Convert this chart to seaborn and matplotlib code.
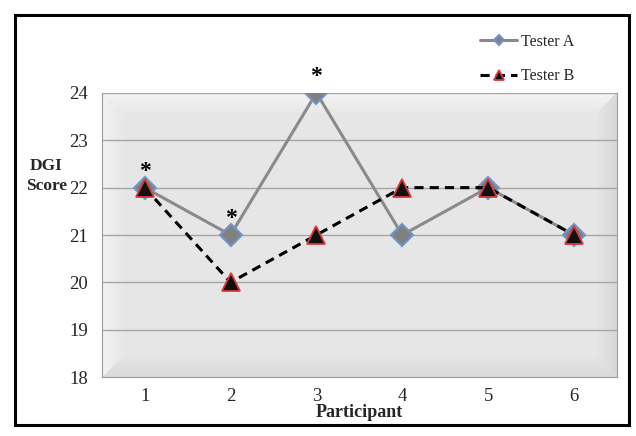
import matplotlib

matplotlib.use("Agg")
import matplotlib.pyplot as plt
import numpy as np
import pandas as pd
import seaborn as sns
from matplotlib.patches import Rectangle

sns.set_style("white")
plt.rcParams["font.family"] = ["Liberation Serif", "DejaVu Serif"]

participants = [1, 2, 3, 4, 5, 6]
tester_a = [22, 21, 24, 21, 22, 21]
tester_b = [22, 20, 21, 22, 22, 21]
starred = [1, 2, 3]
y_ticks = [18, 19, 20, 21, 22, 23, 24]

df = pd.DataFrame({"Participant": participants, "Tester A": tester_a, "Tester B": tester_b})

fig = plt.figure(figsize=(6.36, 4.36), dpi=100)
ax = fig.add_axes([0.160, 0.135, 0.810, 0.652])

# bevelled grey background: light top/left rim, darker bottom/right rim
h, w = 284, 516
yy, xx = np.mgrid[0:h, 0:w].astype(float)
bw = 22.0
dl, dr, dt, db = xx / bw, (w - 1 - xx) / bw, yy / bw, (h - 1 - yy) / bw
dmin = np.minimum.reduce([dl, dr, dt, db])
shade = np.full((h, w), 0.905)
edge = np.clip(1 - dmin, 0, 1)
which = np.argmin(np.stack([dl, dr, dt, db]), axis=0)
delta = np.choose(which, [0.045, -0.06, 0.055, -0.05])
shade = shade + delta * edge
rgb = np.dstack([shade, shade, shade])
ax.imshow(rgb, extent=[0.5, 6.5, 18, 24], origin="upper",
          aspect="auto", interpolation="bilinear", zorder=0)

for t in y_ticks[1:]:
    ax.axhline(t, color="#a6a6a6", lw=1, zorder=1)

sns.lineplot(data=df, x="Participant", y="Tester A", ax=ax, color="#8a8a8a", lw=2.2,
             marker="D", markersize=11, markerfacecolor="#808080",
             markeredgecolor="#6f96c8", markeredgewidth=1.5, label="Tester A", zorder=3)
sns.lineplot(data=df, x="Participant", y="Tester B", ax=ax, color="black", lw=2.2,
             linestyle=(0, (3, 2)), marker="^", markersize=13, markerfacecolor="#111111",
             markeredgecolor="#d83a3a", markeredgewidth=1.3, label="Tester B", zorder=4)

for p in starred:
    ax.text(p, tester_a[p - 1] + 0.12, "*", ha="center", va="bottom",
            fontsize=17, fontweight="bold", color="black", zorder=5)

ax.set_xlim(0.5, 6.5)
ax.set_ylim(18, 24)
ax.set_xticks(participants)
ax.set_yticks(y_ticks)
ax.tick_params(axis="both", labelsize=13.5, length=4, color="#999999", direction="out")
ax.tick_params(axis="x", length=0, pad=8)
ax.tick_params(axis="y", pad=6)
ax.spines["top"].set_visible(False)
for side in ["left", "bottom", "right"]:
    ax.spines[side].set_color("#9c9c9c")

ax.set_xlabel("")
ax.set_ylabel("")

fig.text(0.073, 0.597, "DGI\nScore", ha="center", va="center", fontsize=12.5,
         fontweight="bold", linespacing=1.3)
fig.text(0.565, 0.055, "Participant", ha="center", va="center", fontsize=13,
         fontweight="bold")

ax.legend(loc="center left", bbox_to_anchor=(466 / 636, 1 - 59 / 436),
          bbox_transform=fig.transFigure, frameon=False, fontsize=11.5,
          handlelength=2.3, labelspacing=1.15, handletextpad=0.25, markerscale=0.5)

fig.patches.append(Rectangle((15 / 636, 1 - 425 / 436), 614 / 636, 410 / 436,
                             transform=fig.transFigure, fill=False, edgecolor="black",
                             lw=2.2))

plt.savefig("out.png", dpi=100)
